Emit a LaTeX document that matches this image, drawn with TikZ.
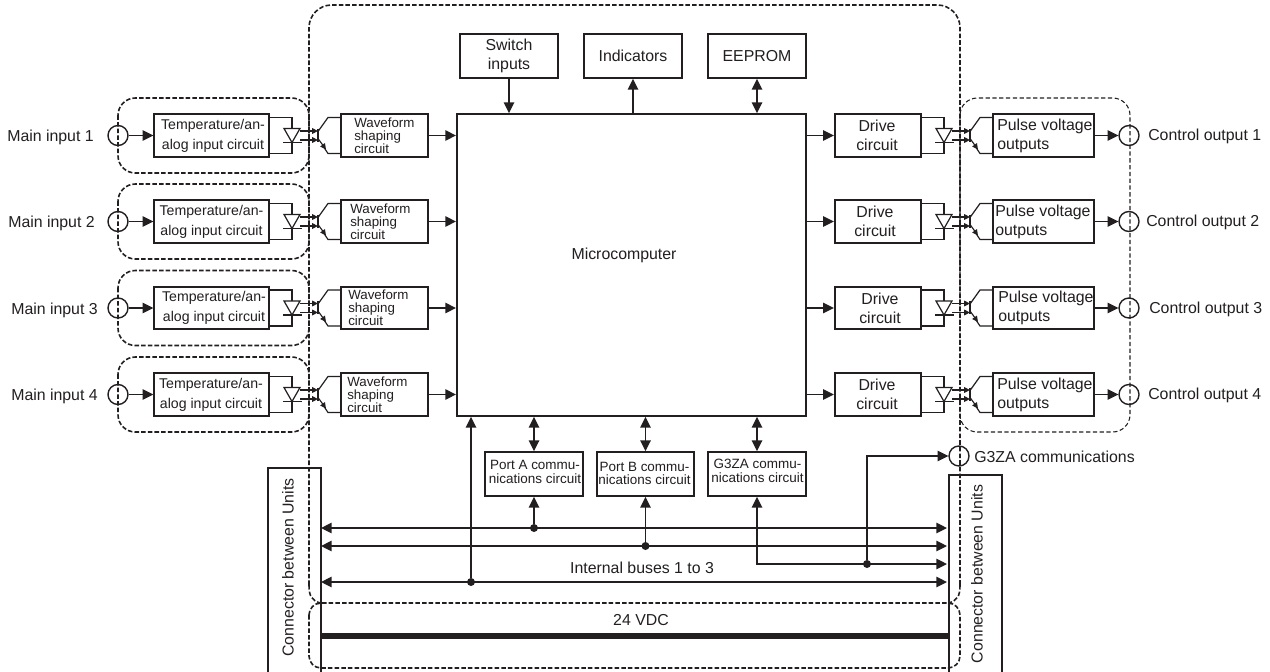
\documentclass[tikz,border=0pt]{standalone}
\usepackage{fontspec}
\setmainfont{Liberation Sans}
\usetikzlibrary{arrows.meta,calc}
\definecolor{ink}{HTML}{231F20}
\tikzset{
  x=0.75pt,y=-0.75pt,
  every node/.style={text=ink},
  conn/.style={draw=ink,line width=1.05pt},
  arr/.style={conn,-{Triangle[length=8pt,width=7.8pt]}},
  darr/.style={conn,{Triangle[length=8pt,width=7.8pt]}-{Triangle[length=8pt,width=7.8pt]}},
  smallarr/.style={draw=ink,line width=0.85pt,-{Triangle[length=4.4pt,width=4.2pt]}},
  blockbox/.style={draw=ink,line width=1.3pt,inner sep=0pt,fill=white},
  thinlead/.style={draw=ink,line width=0.9pt},
  groupdash/.style={draw=ink,line width=1.2pt,dash pattern=on 3.4pt off 1.6pt},
  thindash/.style={draw=ink,line width=0.8pt,dash pattern=on 3.2pt off 1.9pt},
  port/.style={circle,draw=ink,line width=1.05pt,minimum size=15pt,inner sep=0pt},
  joint/.style={circle,fill=ink,minimum size=6pt,inner sep=0pt},
  lab/.style={inner sep=0pt,align=left,font=\fontsize{11.9pt}{14.3pt}\selectfont},
  temptxt/.style={lab,align=center,font=\fontsize{10.6pt}{15pt}\selectfont},
  smalltxt/.style={lab,font=\fontsize{10pt}{9.9pt}\selectfont},
  commtxt/.style={lab,align=center,font=\fontsize{10.1pt}{10pt}\selectfont},
  pics/opto/.style={code={
    \draw[thinlead] (-23,-18) -- (0,-18) -- (0,-7);
    \draw[thinlead] (-23,18) -- (0,18) -- (0,7);
    \draw[thinlead] (-8,-7) -- (8,-7) -- (0,7) -- cycle;
    \draw[thinlead] (-9,7) -- (10,7);
    \draw[smallarr] (8,-4.5) -- (26,-4.5);
    \draw[smallarr] (8,4.5) -- (26,4.5);
    \draw[draw=ink,line width=1.2pt] (26,-7) -- (26,6);
    \draw[thinlead] (49,-18) -- (36,-18) -- (26,-4);
    \draw[thinlead] (49,18) -- (36,18) -- (32,12);
    \draw[smallarr] (26,3) -- (34,14);
  }}
}
\begin{document}
\begin{tikzpicture}
\useasboundingbox (0,0) rectangle (1270,671);
% dashed regions
\draw[groupdash,rounded corners=17pt] (309,585) -- (309,5) -- (960,5) -- (960,585);
\draw[groupdash] (309,585) .. controls (309,597) and (312,600) .. (320,603);
\draw[groupdash] (960,585) .. controls (960,597) and (957,600) .. (949,603);
\draw[groupdash,rounded corners=9pt] (309,603) rectangle (960,668);
\draw[thindash,rounded corners=13pt] (960,98) rectangle (1130,432);
% connector boxes
\node[blockbox,fill=none,minimum width=40pt,minimum height=165pt,anchor=north west] (connL) at (267,467) {};
\node[blockbox,fill=none,minimum width=40pt,minimum height=160pt,anchor=north west] (connR) at (948,474) {};
\node[lab,rotate=90] (connLt) at (288,567.5) {Connector between Units};
\node[lab,rotate=90] (connRt) at (977,574) {Connector between Units};
% rows
\foreach \r/\y/\tx/\wx/\dx/\px/\mx/\cx in {1/135.5/213/354/877/997/94/1148,2/221.5/211.5/350/875/995/95/1146,3/308/214/348/880/998/98/1149,4/394.5/211/347/877/997/98/1148}{
  \draw[groupdash,rounded corners=13pt] (118,\y-37.5) rectangle (309,\y+37.5);
  \node[port] (mi\r) at (118,\y) {};
  \node[lab,anchor=east] (mil\r) at (\mx,\y+2) {Main input \r};
  \node[blockbox,minimum width=86pt,minimum height=32pt] (t\r) at (211.5,\y) {};
  \node[temptxt] (tt\r) at (\tx,\y) {Temperature/an-\\alog input circuit};
  \pic at (292,\y) {opto};
  \node[blockbox,minimum width=65pt,minimum height=32pt] (w\r) at (384.5,\y) {};
  \node[smalltxt,anchor=west] (wt\r) at (\wx,\y) {Waveform\\shaping\\circuit};
  \draw[arr] (mi\r) -- (t\r);
  \node[blockbox,minimum width=65pt,minimum height=32pt] (d\r) at (878,\y) {};
  \node[lab,align=center] (dt\r) at (\dx,\y) {Drive\\circuit};
  \pic at (944,\y) {opto};
  \node[blockbox,minimum width=76pt,minimum height=32pt] (p\r) at (1043.5,\y) {};
  \node[lab,anchor=west] (pt\r) at (\px,\y) {Pulse voltage\\outputs};
  \node[port] (co\r) at (1129,\y) {};
  \draw[arr] (p\r) -- (co\r);
  \node[lab,anchor=west] (col\r) at (\cx,\y+1) {Control output \r};
}
% microcomputer
\node[blockbox,minimum width=262pt,minimum height=226.5pt] (mc) at (631.5,265) {};
\node[lab] (mct) at (624,255) {Microcomputer};
\foreach \r in {1,...,4}{
  \draw[arr] (w\r.east) -- (w\r.east-|mc.west);
  \draw[arr] (d\r.west-|mc.east) -- (d\r.west);
}
% top blocks
\node[blockbox,minimum width=73pt,minimum height=33pt,lab,align=center] (sw) at (509,56) {Switch\\inputs};
\node[blockbox,minimum width=73pt,minimum height=33pt,lab] (ind) at (633,56) {Indicators};
\node[blockbox,minimum width=73pt,minimum height=33pt,lab] (ee) at (757,56) {EEPROM};
\draw[arr] (sw.south) -- (sw.south|-mc.north);
\draw[arr] (ind.south|-mc.north) -- (ind.south);
\draw[darr] (ee.south) -- (ee.south|-mc.north);
% comm blocks
\node[blockbox,minimum width=73pt,minimum height=33pt] (pa) at (534,474) {};
\node[blockbox,minimum width=73pt,minimum height=33pt] (pb) at (645.5,474) {};
\node[blockbox,minimum width=73pt,minimum height=33pt] (pg) at (757,474) {};
\node[commtxt] (pat) at (535,472) {Port A commu-\\nications circuit};
\node[commtxt] (pbt) at (644.5,473.5) {Port B commu-\\nications circuit};
\node[commtxt] (pgt) at (757.5,471) {G3ZA commu-\\nications circuit};
\draw[darr] (pa.north) -- (pa.north|-mc.south);
\draw[darr] (pb.north) -- (pb.north|-mc.south);
\draw[darr] (pg.north) -- (pg.north|-mc.south);
% buses
\coordinate (b1l) at (321,528); \coordinate (b1r) at (947,528);
\coordinate (b2l) at (321,546); \coordinate (b2r) at (947,546);
\coordinate (b3r) at (947,564);
\coordinate (b4l) at (321,582); \coordinate (b4r) at (947,582);
\draw[darr] (b1l) -- (b1r);
\draw[darr] (b2l) -- (b2r);
\draw[darr] (pg.south) |- (b3r);
\draw[darr] (b4l) -- (b4r);
\node[lab] (busl) at (642,568) {Internal buses 1 to 3};
\node[joint] (j1) at (534,528) {};
\node[joint] (j2) at (645.5,546) {};
\node[joint] (j3) at (867,564) {};
\node[joint] (j4) at (471,582) {};
\draw[arr] (j1) -- (pa.south);
\draw[arr] (j2) -- (pb.south);
\draw[arr] (j4) -- (j4|-mc.south);
\node[port] (g3) at (959,456) {};
\node[lab,anchor=west] (g3l) at (974,457) {G3ZA communications};
\draw[arr] (j3) |- (g3);
% power
\draw[draw=ink,line width=4pt] (connL.east|-0,636) -- (connR.west|-0,636);
\node[lab] (v24) at (641,620) {24 VDC};
\end{tikzpicture}
\end{document}
